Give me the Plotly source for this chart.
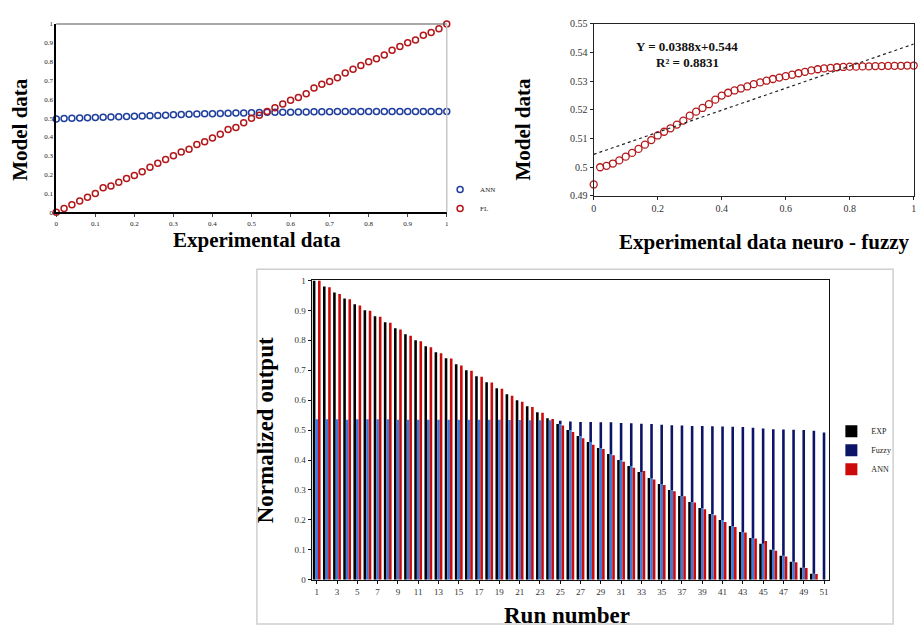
import plotly.graph_objects as go

W, H = 919, 630


def px(x):
    return x / W


def py(y):
    return 1 - y / H


# ---------------- data ----------------
# panel 1 / 2 : experimental data grid
exp_x = [0.00, 0.02, 0.04, 0.06, 0.08, 0.10, 0.12, 0.14, 0.16, 0.18, 0.20,
         0.22, 0.24, 0.26, 0.28, 0.30, 0.32, 0.34, 0.36, 0.38, 0.40, 0.42,
         0.44, 0.46, 0.48, 0.50, 0.52, 0.54, 0.56, 0.58, 0.60, 0.62, 0.64,
         0.66, 0.68, 0.70, 0.72, 0.74, 0.76, 0.78, 0.80, 0.82, 0.84, 0.86,
         0.88, 0.90, 0.92, 0.94, 0.96, 0.98, 1.00]

p1_ann = [0.496, 0.498, 0.500, 0.501, 0.502, 0.503, 0.505, 0.506, 0.507, 0.509,
          0.510, 0.511, 0.513, 0.514, 0.516, 0.518, 0.520, 0.521, 0.522, 0.523,
          0.524, 0.525, 0.526, 0.527, 0.528, 0.529, 0.530, 0.531, 0.531, 0.532,
          0.532, 0.533, 0.533, 0.534, 0.534, 0.534, 0.535, 0.535, 0.535, 0.535,
          0.535, 0.536, 0.536, 0.536, 0.536, 0.536, 0.536, 0.536, 0.536, 0.536,
          0.536]

p1_fl = [0.000, 0.020, 0.040, 0.060, 0.080, 0.100, 0.130, 0.140, 0.160, 0.180,
         0.195, 0.215, 0.240, 0.260, 0.280, 0.300, 0.320, 0.335, 0.360, 0.375,
         0.395, 0.415, 0.440, 0.450, 0.475, 0.500, 0.515, 0.535, 0.555, 0.575,
         0.595, 0.610, 0.630, 0.660, 0.680, 0.695, 0.715, 0.740, 0.760, 0.780,
         0.800, 0.815, 0.835, 0.860, 0.880, 0.900, 0.915, 0.940, 0.955, 0.975,
         1.000]

p2_model = [0.4940, 0.5000, 0.5005, 0.5013, 0.5024, 0.5037, 0.5050, 0.5064,
            0.5079, 0.5095, 0.5111, 0.5124, 0.5136, 0.5149, 0.5163, 0.5180,
            0.5194, 0.5207, 0.5220, 0.5236, 0.5250, 0.5260, 0.5268, 0.5275,
            0.5282, 0.5290, 0.5296, 0.5302, 0.5308, 0.5313, 0.5318, 0.5323,
            0.5328, 0.5333, 0.5338, 0.5342, 0.5345, 0.5347, 0.5349, 0.5350,
            0.5351, 0.5351, 0.5352, 0.5352, 0.5353, 0.5353, 0.5354, 0.5354,
            0.5354, 0.5355, 0.5355]

trend_x = [0.0, 1.0]
trend_y = [0.5045, 0.5430]

eq_text = "Y = 0.0388x+0.544"
r2_text = "R² = 0.8831"

# panel 3 : runs
runs = list(range(1, 52))
run_ticks = [1, 3, 5, 7, 9, 11, 13, 15, 17, 19, 21, 23, 25, 27, 29, 31, 33,
             35, 37, 39, 41, 43, 45, 47, 49, 51]

exp_out = [1.00, 0.98, 0.96, 0.94, 0.92, 0.90, 0.88, 0.86, 0.84, 0.82, 0.80,
           0.78, 0.76, 0.74, 0.72, 0.70, 0.68, 0.66, 0.64, 0.62, 0.60, 0.58,
           0.56, 0.54, 0.52, 0.50, 0.48, 0.46, 0.44, 0.42, 0.40, 0.38, 0.36,
           0.34, 0.32, 0.30, 0.28, 0.26, 0.24, 0.22, 0.20, 0.18, 0.16, 0.14,
           0.12, 0.10, 0.08, 0.06, 0.04, 0.02, 0.00]

fuzzy_out = [0.536, 0.536, 0.536, 0.535, 0.536, 0.536, 0.536, 0.536, 0.535,
             0.535, 0.535, 0.535, 0.535, 0.535, 0.535, 0.535, 0.535, 0.535,
             0.535, 0.534, 0.534, 0.533, 0.533, 0.533, 0.531, 0.529, 0.527,
             0.527, 0.526, 0.526, 0.524, 0.523, 0.521, 0.520, 0.518, 0.516,
             0.515, 0.514, 0.514, 0.513, 0.512, 0.511, 0.510, 0.508, 0.505,
             0.503, 0.502, 0.501, 0.500, 0.498, 0.492]

ann_out = [1.000, 0.977, 0.955, 0.937, 0.916, 0.899, 0.879, 0.859, 0.836,
           0.815, 0.797, 0.777, 0.757, 0.739, 0.716, 0.698, 0.678, 0.659,
           0.638, 0.615, 0.595, 0.577, 0.558, 0.537, 0.515, 0.494, 0.473,
           0.451, 0.437, 0.416, 0.394, 0.374, 0.363, 0.335, 0.317, 0.296,
           0.279, 0.258, 0.236, 0.216, 0.193, 0.176, 0.158, 0.138, 0.130,
           0.097, 0.078, 0.059, 0.039, 0.019, 0.000]

# two-tone rendering of the Fuzzy bars (light part beside EXP, dark above)
fuzzy_low = [min(f, e) for f, e in zip(fuzzy_out, exp_out)]
fuzzy_high = [f - l for f, l in zip(fuzzy_out, fuzzy_low)]

SERIF = "Liberation Serif"
BLUE_PT = "#1f3f9c"
RED_PT = "#b3171a"

fig = go.Figure()

# ---------- panel 1 ----------
fig.add_trace(go.Scatter(
    x=exp_x, y=p1_ann, mode="markers", name="ANN", cliponaxis=False,
    marker=dict(symbol="circle-open", size=6, color=BLUE_PT,
                line=dict(width=1.5, color=BLUE_PT)),
    xaxis="x", yaxis="y", legend="legend"))
fig.add_trace(go.Scatter(
    x=exp_x, y=p1_fl, mode="markers", name="FL", cliponaxis=False,
    marker=dict(symbol="circle-open", size=6, color=RED_PT,
                line=dict(width=1.5, color=RED_PT)),
    xaxis="x", yaxis="y", legend="legend"))

# ---------- panel 2 ----------
fig.add_trace(go.Scatter(
    x=exp_x, y=p2_model, mode="markers", showlegend=False, cliponaxis=False,
    marker=dict(symbol="circle-open", size=7, color=RED_PT,
                line=dict(width=1.3, color=RED_PT)),
    xaxis="x2", yaxis="y2"))
fig.add_trace(go.Scatter(
    x=trend_x, y=trend_y, mode="lines", showlegend=False,
    line=dict(color="#222222", width=1.2, dash="dot"),
    xaxis="x2", yaxis="y2"))

# ---------- panel 3 ----------
BW = 0.255
fig.add_trace(go.Bar(
    x=runs, y=exp_out, name="EXP", width=BW, offset=-1.5 * BW,
    marker=dict(color="#000000", line=dict(width=0)),
    xaxis="x3", yaxis="y3", legend="legend2"))
fig.add_trace(go.Bar(
    x=runs, y=fuzzy_low, name="Fuzzy", width=BW, offset=-0.5 * BW,
    marker=dict(color="#3b7be0", line=dict(width=0)), showlegend=False,
    xaxis="x3", yaxis="y3", legend="legend2"))
fig.add_trace(go.Bar(
    x=runs, y=fuzzy_high, base=fuzzy_low, name="Fuzzy", width=BW,
    offset=-0.5 * BW,
    marker=dict(color="#0b1466", line=dict(width=0)),
    xaxis="x3", yaxis="y3", legend="legend2"))
fig.add_trace(go.Bar(
    x=runs, y=ann_out, name="ANN", width=BW, offset=0.5 * BW,
    marker=dict(color="#cc0a0a", line=dict(width=0)),
    xaxis="x3", yaxis="y3", legend="legend2"))

tickfont_small = dict(family=SERIF, size=7, color="#222222")
tickfont_mid = dict(family=SERIF, size=10, color="#333333")
tickfont_bot = dict(family=SERIF, size=9, color="#333333")

fig.update_layout(
    width=W, height=H,
    margin=dict(l=0, r=0, t=0, b=0),
    paper_bgcolor="white", plot_bgcolor="white",
    barmode="overlay",
    font=dict(family=SERIF, color="#111111"),
    xaxis=dict(domain=[px(54.5), px(446.7)], anchor="y", range=[0, 1],
               tickvals=[0, 0.1, 0.2, 0.3, 0.4, 0.5, 0.6, 0.7, 0.8, 0.9, 1],
               ticktext=["0", "0.1", "0.2", "0.3", "0.4", "0.5", "0.6", "0.7",
                         "0.8", "0.9", "1"],
               showgrid=False, zeroline=False, showline=True,
               linecolor="#000000", linewidth=1.6, ticks="outside",
               ticklen=3, tickcolor="#444444", tickfont=tickfont_small),
    yaxis=dict(domain=[py(210), py(18.3)], anchor="x", range=[0, 1],
               tickvals=[0, 0.1, 0.2, 0.3, 0.4, 0.5, 0.6, 0.7, 0.8, 0.9, 1],
               ticktext=["0", "0.1", "0.2", "0.3", "0.4", "0.5", "0.6", "0.7",
                         "0.8", "0.9", "1"],
               showgrid=False, zeroline=False, showline=True,
               linecolor="#000000", linewidth=1.6, ticks="",
               tickfont=tickfont_small),
    xaxis2=dict(domain=[px(594.3), px(915.7)], anchor="y2", range=[0, 1],
                tickvals=[0, 0.2, 0.4, 0.6, 0.8, 1],
                ticktext=["0", "0.2", "0.4", "0.6", "0.8", "1"],
                showgrid=False, zeroline=False, showline=True, mirror=True,
                linecolor="#222222", linewidth=1.3, ticks="outside",
                ticklen=3, tickcolor="#222222", tickfont=tickfont_mid),
    yaxis2=dict(domain=[py(193.3), py(18.3)], anchor="x2",
                range=[0.49, 0.55],
                tickvals=[0.49, 0.50, 0.51, 0.52, 0.53, 0.54, 0.55],
                ticktext=["0.49", "0.5", "0.51", "0.52", "0.53", "0.54",
                          "0.55"],
                showgrid=False, zeroline=False, showline=True, mirror=True,
                linecolor="#222222", linewidth=1.3, ticks="outside",
                ticklen=3, tickcolor="#222222", tickfont=tickfont_mid),
    xaxis3=dict(domain=[px(311), px(830.7)], anchor="y3",
                range=[0.5, 51.5], tickvals=run_ticks,
                ticktext=[str(t) for t in run_ticks],
                showgrid=False, zeroline=False, showline=True, mirror=True,
                linecolor="#111111", linewidth=1.3, ticks="outside",
                ticklen=3, tickcolor="#111111", tickfont=tickfont_bot),
    yaxis3=dict(domain=[py(584), py(279.3)], anchor="x3", range=[0, 1],
                tickvals=[0, 0.1, 0.2, 0.3, 0.4, 0.5, 0.6, 0.7, 0.8, 0.9, 1],
                ticktext=["0", "0.1", "0.2", "0.3", "0.4", "0.5", "0.6",
                          "0.7", "0.8", "0.9", "1"],
                showgrid=False, zeroline=False, showline=True, mirror=True,
                linecolor="#111111", linewidth=1.0, ticks="outside",
                ticklen=3, tickcolor="#111111", tickfont=tickfont_bot),
    legend=dict(x=px(440), y=py(172), xanchor="left", yanchor="top",
                bgcolor="rgba(0,0,0,0)", borderwidth=0,
                font=dict(family=SERIF, size=7, color="#222222"),
                itemwidth=30, tracegroupgap=0),
    legend2=dict(x=px(833), y=py(418), xanchor="left", yanchor="top",
                 bgcolor="rgba(0,0,0,0)", borderwidth=0,
                 font=dict(family=SERIF, size=8, color="#222222"),
                 itemwidth=30, tracegroupgap=0),
)

# panel 1 partial frame (top dark, right light)
fig.add_shape(type="line", xref="paper", yref="paper",
              x0=px(54.5), x1=px(446.7), y0=py(18.3), y1=py(18.3),
              line=dict(color="#555555", width=1.2))
fig.add_shape(type="line", xref="paper", yref="paper",
              x0=px(446.7), x1=px(446.7), y0=py(18.3), y1=py(210),
              line=dict(color="#c8c8c8", width=1.5))
# bottom chart outer frame
fig.add_shape(type="rect", xref="paper", yref="paper",
              x0=px(256), x1=px(895), y0=py(629), y1=py(268),
              line=dict(color="#cfcfcf", width=1.5))

title_font = dict(family=SERIF, size=21, color="#000000")
big_font = dict(family=SERIF, size=23, color="#000000")
annots = [
    dict(text="<b>Model data</b>", x=px(18), y=py(125), textangle=-90,
         font=title_font),
    dict(text="<b>Experimental data</b>", x=px(256), y=py(238),
         font=title_font),
    dict(text="<b>Model data</b>", x=px(523), y=py(125), textangle=-90,
         font=title_font),
    dict(text="<b>Experimental data neuro - fuzzy</b>", x=px(766),
         y=py(240), font=title_font),
    dict(text="<b>" + eq_text + "</b>", x=px(688), y=py(41),
         font=dict(family=SERIF, size=13, color="#111111")),
    dict(text="<b>" + r2_text + "</b>", x=px(688), y=py(57),
         font=dict(family=SERIF, size=13, color="#111111")),
    dict(text="<b>Normalized output</b>", x=px(265), y=py(432),
         textangle=-90, font=big_font),
    dict(text="<b>Run number</b>", x=px(567), y=py(620), font=big_font),
]
for a in annots:
    fig.add_annotation(xref="paper", yref="paper", showarrow=False,
                       xanchor="center", yanchor="middle", **a)

fig.write_html("out.html", config={"displayModeBar": False},
               post_script="document.body.style.margin='0px';")
